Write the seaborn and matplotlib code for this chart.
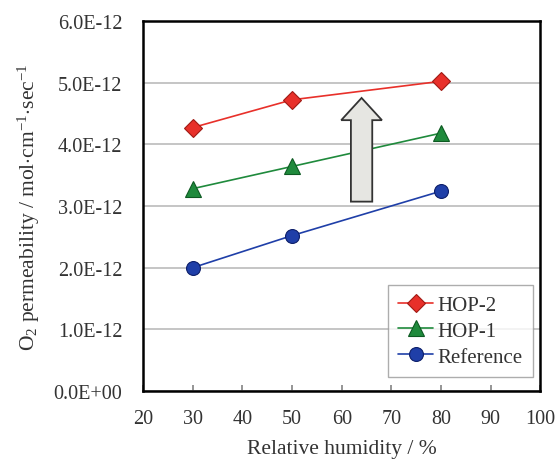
import matplotlib
matplotlib.use("Agg")
import matplotlib.pyplot as plt
import seaborn as sns
import pandas as pd
from matplotlib.patches import FancyArrow

humidity = [30, 50, 80]
hop2 = [4.27e-12, 4.72e-12, 5.02e-12]
hop1 = [3.28e-12, 3.64e-12, 4.18e-12]
reference = [2.00e-12, 2.52e-12, 3.24e-12]
series_names = ["HOP-2", "HOP-1", "Reference"]
yticks = [0, 1e-12, 2e-12, 3e-12, 4e-12, 5e-12, 6e-12]
ytick_labels = ["0.0E+00", "1.0E-12", "2.0E-12", "3.0E-12", "4.0E-12", "5.0E-12", "6.0E-12"]
xticks = [20, 30, 40, 50, 60, 70, 80, 90, 100]

sns.set_theme(style="white")
plt.rcParams['font.family'] = ['Liberation Serif', 'DejaVu Serif']
plt.rcParams['mathtext.fontset'] = 'custom'
plt.rcParams['mathtext.rm'] = 'Liberation Serif'
plt.rcParams['mathtext.it'] = 'Liberation Serif:italic'

rows = []
for name, vals in zip(series_names, [hop2, hop1, reference]):
    for h, v in zip(humidity, vals):
        rows.append({"RH": h, "P": v, "Series": name})
df = pd.DataFrame(rows)

palette = {"HOP-2": "#e8302a", "HOP-1": "#1f8a3c", "Reference": "#1f3fa8"}
edge = {"HOP-2": "#a01a14", "HOP-1": "#0d5a22", "Reference": "#0d1f6a"}
markers = {"HOP-2": "D", "HOP-1": "^", "Reference": "o"}
msize = {"HOP-2": 9, "HOP-1": 11, "Reference": 10}

fig = plt.figure(figsize=(5.57, 4.64), dpi=100)
ax = fig.add_axes([0.257, 0.155, 0.713, 0.798])

for name in series_names:
    sub = df[df["Series"] == name]
    sns.lineplot(data=sub, x="RH", y="P", ax=ax, color=palette[name], marker=markers[name],
                 markersize=msize[name], markeredgecolor=edge[name], markeredgewidth=0.8,
                 linewidth=1.2, label=name)

ax.set_xlim(20, 100)
ax.set_ylim(0, 6e-12)
ax.set_xticks(xticks)
ax.set_xticklabels([str(x) for x in xticks], fontsize=14.5, color="#333333")
ax.set_yticks(yticks)
ax.set_yticklabels(ytick_labels, fontsize=14.5, color="#333333")
ax.yaxis.grid(True, color="#bbbbbb", linewidth=1.2)
ax.xaxis.grid(False)
ax.set_axisbelow(True)
for s in ax.spines.values():
    s.set_color("black")
    s.set_linewidth(1.8)
ax.tick_params(axis="x", direction="in", length=4, color="#888888", bottom=True, pad=13)
ax.tick_params(axis="y", length=0, pad=15)

ax.set_xlabel("Relative humidity / %", fontsize=15.5, color="#333333", labelpad=8)
ax.set_ylabel(r"O$_2$ permeability / mol$\cdot$cm$^{-1}$$\cdot$sec$^{-1}$", fontsize=15.5,
              color="#333333", labelpad=8)

arrow = FancyArrow(64, 3.07e-12, 0, 1.68e-12, width=4.3, head_width=8.2, head_length=0.36e-12,
                   length_includes_head=True, facecolor="#e6e6e2", edgecolor="#333333",
                   linewidth=1.3, zorder=3)
ax.add_patch(arrow)

leg = ax.legend(loc="lower right", fontsize=15, frameon=True, fancybox=False,
                edgecolor="#999999", borderpad=0.5, handlelength=1.7, handletextpad=0.2,
                labelspacing=0.3, borderaxespad=0, bbox_to_anchor=(0.982, 0.038))
leg.get_frame().set_linewidth(1.0)
for t in leg.get_texts():
    t.set_color("#333333")

fig.savefig("out.png", dpi=100)
